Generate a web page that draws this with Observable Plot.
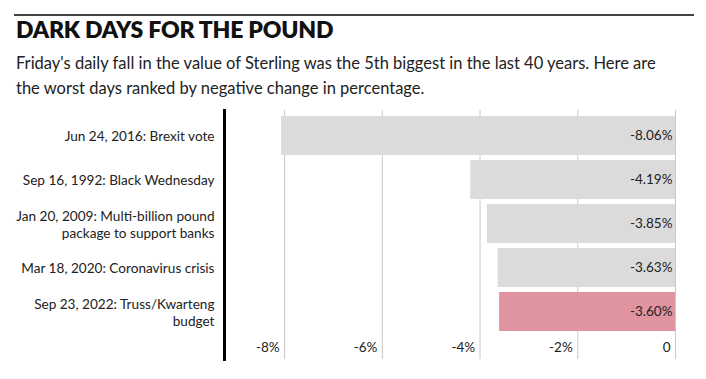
<!DOCTYPE html>
<html>
<head>
<meta charset="utf-8">
<script src="https://cdn.jsdelivr.net/npm/d3@7"></script>
<script src="https://cdn.jsdelivr.net/npm/@observablehq/plot@0.6"></script>
<style>
  html, body { margin: 0; padding: 0; background: #fff; }
  body { width: 706px; height: 379px; position: relative; overflow: hidden; font-family: Lato, "Open Sans", sans-serif; color: #1a1a1a; }
  #rule { position: absolute; left: 14px; top: 14px; width: 680px; height: 2px; background: #444; }
  #title { position: absolute; left: 16px; top: 16px; font-size: 23px; font-weight: 800; letter-spacing: -0.2px; line-height: 26px; color: #111; }
  #subtitle { position: absolute; left: 16px; top: 51px; width: 660px; font-size: 16.5px; line-height: 25px; color: #222; }
  #chart { position: absolute; left: 0; top: 105px; }
</style>
</head>
<body>
<div id="rule"></div>
<div id="title">DARK DAYS FOR THE POUND</div>
<div id="subtitle">Friday's daily fall in the value of Sterling was the 5th biggest in the last 40 years. Here are the worst days ranked by negative change in percentage.</div>
<div id="chart"></div>
<script>
const events = [
  "Jun 24, 2016: Brexit vote",
  "Sep 16, 1992: Black Wednesday",
  "Jan 20, 2009: Multi-billion pound\npackage to support banks",
  "Mar 18, 2020: Coronavirus crisis",
  "Sep 23, 2022: Truss/Kwarteng\nbudget"
];
const changes = [-8.06, -4.19, -3.85, -3.63, -3.60];
const highlighted = "Sep 23, 2022: Truss/Kwarteng\nbudget";
const xTicks = [-8, -6, -4, -2, 0];
const xTickLabels = ["-8%", "-6%", "-4%", "-2%", "0"];

const data = events.map((e, i) => ({event: e, change: changes[i]}));
const ticks = xTicks.map((t, i) => ({value: t, label: xTickLabels[i]}));

const gray = "#dbdbdb";
const pink = "#e0949f";
const fmt = v => v.toFixed(2) + "%";

const chart = Plot.plot({
  width: 706,
  height: 274,
  marginTop: 5,
  marginBottom: 20,
  marginLeft: 224,
  marginRight: 31,
  style: {fontFamily: "Lato, 'Open Sans', sans-serif", fontSize: "13px", color: "#222", background: "transparent"},
  x: {domain: [-9.23, 0], axis: null},
  y: {domain: events, axis: null, paddingInner: 0.107, paddingOuter: 0.367, align: 0.185},
  marks: [
    Plot.ruleX(ticks, {x: "value", stroke: "#c8c8c8", strokeWidth: 1}),
    Plot.barX(data, {x1: 0, x2: "change", y: "event", fill: d => d.event === highlighted ? pink : gray}),
    Plot.text(data, {x: d => 0, y: "event", text: d => fmt(d.change), textAnchor: "end", dx: -3, fill: "#222", fontSize: 13.5}),
    Plot.text(data, {y: "event", text: "event", frameAnchor: "left", textAnchor: "end", dx: -10, lineHeight: 1.25, fill: "#222", fontSize: 13.6}),
    Plot.text(ticks, {x: "value", text: "label", frameAnchor: "bottom", textAnchor: "end", dx: -5, dy: -8, fill: "#222", fontSize: 13.5}),
    Plot.frame({anchor: "left", stroke: "#000", strokeWidth: 3})
  ]
});
document.getElementById("chart").appendChild(chart);
</script>
</body>
</html>
